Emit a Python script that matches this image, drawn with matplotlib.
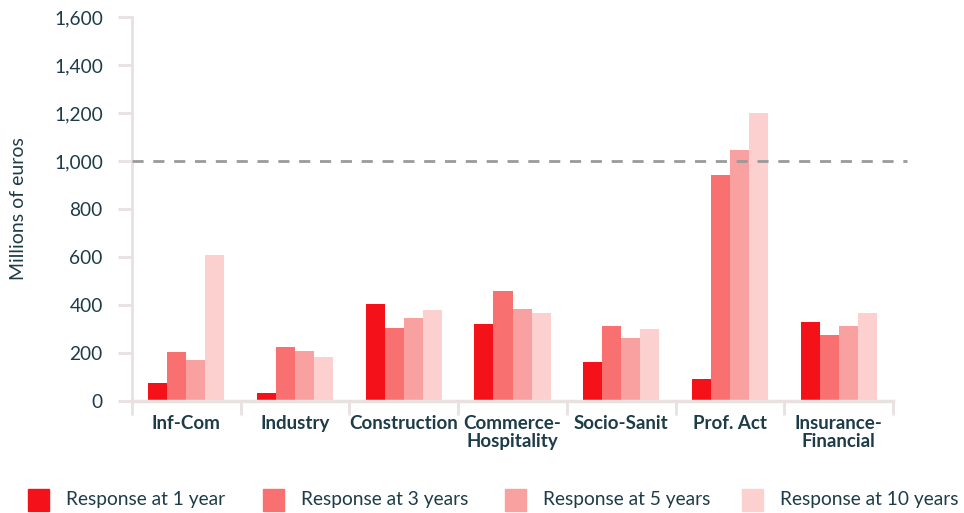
import matplotlib
matplotlib.use("Agg")
import matplotlib.pyplot as plt
from matplotlib.patches import Rectangle
import numpy as np

categories = ["Inf-Com", "Industry", "Construction", "Commerce-\nHospitality",
              "Socio-Sanit", "Prof. Act", "Insurance-\nFinancial"]
series_names = ["Response at 1 year", "Response at 3 years",
                "Response at 5 years", "Response at 10 years"]
resp_1y = [75, 33, 404, 319, 162, 92, 329]
resp_3y = [206, 227, 306, 458, 312, 942, 275]
resp_5y = [172, 210, 346, 383, 262, 1046, 312]
resp_10y = [610, 185, 379, 367, 300, 1200, 367]
threshold = 1000
y_ticks = [0, 200, 400, 600, 800, 1000, 1200, 1400, 1600]

colors = ["#f51119", "#f87070", "#f9a0a0", "#fdd0d0"]
text_color = "#1d3c48"
axis_color = "#e9e0e0"

plt.rcParams['font.family'] = ['Lato', 'DejaVu Sans']

fig = plt.figure(figsize=(9.64, 5.13), dpi=100)
ax = fig.add_axes([132/964, 1-401/513, (893-132)/964, (401-17)/513])

x = np.arange(len(categories))
w = 0.175
all_series = [resp_1y, resp_3y, resp_5y, resp_10y]
for i, (vals, c) in enumerate(zip(all_series, colors)):
    ax.bar(x + (i - 1.5) * w, vals, width=w, color=c, edgecolor='none', zorder=2)

ax.set_xlim(-0.5, len(categories) - 0.5)
ax.set_ylim(0, 1600)
ax.set_yticks(y_ticks)
ax.set_yticklabels([f"{v:,}" for v in y_ticks], color=text_color, fontsize=13.8)
ax.set_xticks(x)
ax.set_xticklabels(categories, color=text_color, fontsize=13.5, fontweight='bold',
                   linespacing=1.05)
ax.set_xticks(np.arange(-0.5, len(categories)), minor=True)
ax.tick_params(axis='x', which='major', length=0, pad=10)
ax.tick_params(axis='x', which='minor', length=10, width=2, color=axis_color)
ax.tick_params(axis='y', length=10, width=2, color=axis_color, pad=11)

for s in ['top', 'right']:
    ax.spines[s].set_visible(False)
ax.spines['left'].set_color(axis_color)
ax.spines['left'].set_linewidth(2)
ax.spines['bottom'].set_color(axis_color)
ax.spines['bottom'].set_linewidth(2.5)

ax.plot([0, 1.018], [threshold, threshold], transform=ax.get_yaxis_transform(),
        color='#9a9a9a', linestyle=(0, (4, 3.5)), linewidth=2, clip_on=False, zorder=3)

ax.set_ylabel("Millions of euros", color=text_color, fontsize=14)
ax.yaxis.set_label_coords((27-132)/761, 0.5)

# legend
leg_x = [28, 263, 505, 742]
for lx, c, name in zip(leg_x, colors, series_names):
    fig.patches.append(Rectangle((lx/964, 1-511/513), 21/964, 22/513,
                                 transform=fig.transFigure, color=c))
    fig.text((lx + 38)/964, 1-499/513, name, color=text_color, fontsize=13.8,
             va='center', ha='left')

fig.savefig("out.png", dpi=100)
